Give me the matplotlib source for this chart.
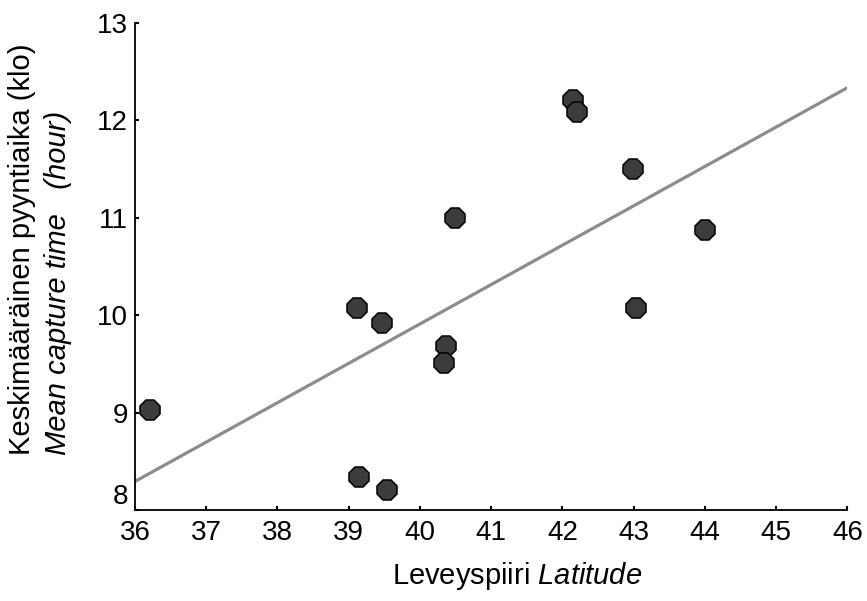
import numpy as np
import matplotlib
matplotlib.use('Agg')
import matplotlib.pyplot as plt

plt.rcParams['font.family'] = ['Liberation Sans', 'DejaVu Sans']
plt.rcParams['mathtext.fontset'] = 'custom'
plt.rcParams['mathtext.rm'] = 'Liberation Sans'
plt.rcParams['mathtext.it'] = 'Liberation Sans:italic'

# latitude vs mean capture time
latitude = [36.21, 39.12, 39.47, 40.37, 40.34, 39.15, 39.54, 40.49,
            42.15, 42.20, 42.99, 44.00, 43.03]
capture_time = [9.03, 10.07, 9.92, 9.68, 9.51, 8.34, 8.21, 11.00,
                12.21, 12.09, 11.50, 10.87, 10.07]

x_ticks = list(range(36, 47))
y_ticks = list(range(8, 14))

fig = plt.figure(figsize=(8.67, 6.01), dpi=100)
ax = fig.add_axes([0.1557, 0.1514, 0.8218, 0.8103])

x = np.array(latitude)
y = np.array(capture_time)
slope, intercept = np.polyfit(x, y, 1)
xl = np.array([36, 46])
ax.plot(xl, slope * xl + intercept, color='#8c8c8c', lw=2.3, zorder=2)

ax.plot(x, y, linestyle='none', marker='8', markersize=16,
        markerfacecolor='#3c3c3c', markeredgecolor='black',
        markeredgewidth=1.1, zorder=3)

ax.set_xlim(36, 46)
ax.set_ylim(8, 13)
ax.set_xticks(x_ticks)
ax.set_yticks(y_ticks)
ax.tick_params(labelsize=20, length=3, width=1.5, direction='in')
ax.tick_params(axis='x', pad=7)
ax.tick_params(axis='y', pad=5)
for s in ['top', 'right']:
    ax.spines[s].set_visible(False)
for s in ['left', 'bottom']:
    ax.spines[s].set_linewidth(1.3)

# lift the lowest y label off the x labels, as in the original
fig.canvas.draw()
ax.get_yticklabels()[0].set_verticalalignment('bottom')

fig.text(0.596, 0.028, r'Leveyspiiri $\mathit{Latitude}$', ha='center', va='baseline', fontsize=21)
fig.text(0.025, 0.243, 'Keskimääräinen pyyntiaika (klo)', rotation=90,
         ha='center', va='bottom', fontsize=21)
fig.text(0.067, 0.243, 'Mean capture time   (hour)', rotation=90, style='italic',
         ha='center', va='bottom', fontsize=21)

fig.savefig('out.png', dpi=100)
